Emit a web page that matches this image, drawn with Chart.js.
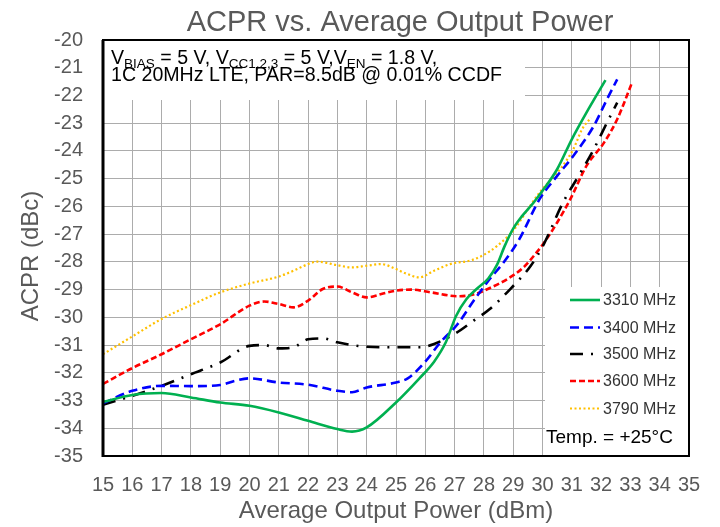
<!DOCTYPE html>
<html>
<head>
<meta charset="utf-8">
<script src="https://cdn.jsdelivr.net/npm/chart.js@4"></script>
<style>
  html, body { margin: 0; padding: 0; background: #ffffff; }
  #wrap { width: 720px; height: 527px; position: relative; }
</style>
</head>
<body>
<div id="wrap"><canvas id="c" width="720" height="527"></canvas></div>
<script>
// ---- data ----
const seriesNames = ["3310 MHz", "3400 MHz", "3500 MHz", "3600 MHz", "3790 MHz"];

const power3310 = [15, 16, 17, 18, 19, 20, 21, 22, 23, 23.5, 24, 25, 25.8, 26.3, 26.7, 27.05, 27.4, 27.75, 28.15, 28.45, 28.7, 29, 29.3, 29.7, 30, 30.5, 31, 31.5, 32.15];
const acpr3310  = [-33.05, -32.8, -32.73, -32.89, -33.07, -33.19, -33.43, -33.73, -34.03, -34.12, -33.97, -33.07, -32.2, -31.6, -30.9, -29.95, -29.35, -28.98, -28.6, -28.1, -27.45, -26.8, -26.35, -25.86, -25.44, -24.66, -23.58, -22.62, -21.45];

const power3400 = [15, 16, 17, 18, 19, 19.5, 20, 21, 22, 23, 23.5, 24, 25, 25.4, 26, 26.5, 27.1, 27.65, 28.2, 28.65, 29.2, 29.9, 30.5, 31.05, 31.75, 32.2, 32.55];
const acpr3400  = [-33.1, -32.65, -32.47, -32.48, -32.44, -32.29, -32.2, -32.35, -32.43, -32.65, -32.7, -32.53, -32.35, -32.2, -31.6, -30.92, -30.25, -29.4, -28.62, -28.05, -27.2, -25.74, -24.9, -24.18, -23.1, -22.14, -21.42];

const power3500 = [15, 16, 17, 18, 19, 20, 20.5, 21, 21.5, 22, 22.5, 23, 24, 25, 25.8, 26.3, 27, 27.65, 28.2, 28.9, 29.6, 30.05, 30.7, 31.3, 31.75, 32.2, 32.55];
const acpr3500  = [-33.15, -32.83, -32.47, -32.05, -31.63, -31.03, -31.0, -31.12, -31.08, -30.79, -30.76, -30.9, -31.06, -31.08, -31.08, -30.96, -30.6, -30.12, -29.7, -28.98, -28.14, -27.35, -25.86, -24.78, -23.94, -22.98, -22.26];

const power3600 = [15, 16, 17, 18, 19, 20, 20.5, 21, 21.5, 22, 22.5, 23, 23.5, 24, 24.5, 25, 25.5, 26.2, 27.1, 27.7, 28.25, 28.8, 29.35, 29.8, 30.1, 30.5, 30.95, 31.5, 32.1, 32.55, 33.05];
const acpr3600  = [-32.4, -31.83, -31.33, -30.79, -30.25, -29.58, -29.43, -29.52, -29.64, -29.4, -28.98, -28.89, -29.1, -29.28, -29.16, -29.04, -29.0, -29.1, -29.24, -29.16, -28.92, -28.62, -28.2, -27.66, -27.24, -26.58, -25.74, -24.54, -23.7, -22.86, -21.55];

const power3790 = [15, 16, 17, 18, 19, 20, 21, 21.5, 22, 22.3, 23, 23.5, 24, 24.5, 25, 25.3, 25.8, 26.3, 26.85, 27.6, 28.2, 28.7, 29.0, 29.5, 29.9, 30.6, 31.05, 31.35, 31.65];
const acpr3790  = [-31.33, -30.69, -30.06, -29.56, -29.1, -28.78, -28.53, -28.32, -28.08, -27.99, -28.12, -28.2, -28.14, -28.08, -28.26, -28.4, -28.56, -28.32, -28.08, -27.93, -27.62, -27.2, -26.88, -26.1, -25.5, -24.66, -23.94, -23.22, -22.8];

const xTickMin = 15, xTickMax = 35;
const yTickMin = -35, yTickMax = -20;

const titleText = "ACPR vs. Average Output Power";
const xTitle = "Average Output Power (dBm)";
const yTitle = "ACPR (dBc)";
const tempText = "Temp. = +25°C";
const noteLine1 = [["V", 0], ["BIAS", 1], [" = 5 V, V", 0], ["CC1,2,3", 1], [" = 5 V,V", 0], ["EN", 1], [" = 1.8 V,", 0]];
const noteLine2 = "1C 20MHz LTE, PAR=8.5dB @ 0.01% CCDF";

// ---- styles ----
const FONT = "'Liberation Sans', Arial, sans-serif";
const styles = [
  { color: "#00b050", dash: [], width: 2.6 },
  { color: "#0000ff", dash: [9, 5], width: 2.6 },
  { color: "#000000", dash: [13, 8, 2, 8], width: 2.6 },
  { color: "#ff0000", dash: [6, 3], width: 2.6 },
  { color: "#ffc000", dash: [2, 2.5], width: 2.2 }
];
const xs = [power3310, power3400, power3500, power3600, power3790];
const ys = [acpr3310, acpr3400, acpr3500, acpr3600, acpr3790];

const datasets = seriesNames.map((name, i) => ({
  label: name,
  data: xs[i].map((x, j) => ({ x: x, y: ys[i][j] })),
  borderColor: styles[i].color,
  backgroundColor: styles[i].color,
  borderDash: styles[i].dash,
  borderWidth: styles[i].width,
  pointRadius: 0,
  fill: false,
  cubicInterpolationMode: "monotone",
  borderCapStyle: "butt"
}));

const decor = {
  id: "decor",
  beforeDatasetsDraw(chart) {
    const ctx = chart.ctx;
    const a = chart.chartArea;
    ctx.save();
    ctx.fillStyle = "#ffffff";
    // annotation box
    ctx.fillRect(a.left, a.top, 525 - a.left, 100 - a.top);
    // legend box
    ctx.fillRect(545, 287, a.right - 545, a.bottom - 287);
    ctx.restore();
  },
  afterDraw(chart) {
    const ctx = chart.ctx;
    const a = chart.chartArea;
    ctx.save();
    // title
    ctx.fillStyle = "#595959";
    ctx.font = "29px " + FONT;
    ctx.textAlign = "center";
    ctx.textBaseline = "alphabetic";
    ctx.fillText(titleText, 400, 31);
    // y title
    ctx.save();
    ctx.translate(31, 256);
    ctx.rotate(-Math.PI / 2);
    ctx.font = "24px " + FONT;
    ctx.textBaseline = "middle";
    ctx.fillText(yTitle, 0, 0);
    ctx.restore();
    // note text
    ctx.fillStyle = "#000000";
    ctx.textAlign = "left";
    let x = 111;
    for (const [t, sub] of noteLine1) {
      ctx.font = (sub ? "13.5px " : "19.6px ") + FONT;
      ctx.fillText(t, x, sub ? 68 : 64);
      x += ctx.measureText(t).width;
    }
    ctx.font = "19.6px " + FONT;
    ctx.fillText(noteLine2, 111, 81);
    // legend
    ctx.font = "16px " + FONT;
    ctx.textBaseline = "middle";
    const rows = [300, 327.5, 354, 381, 408.5];
    seriesNames.forEach((n, i) => {
      const s = styles[i];
      ctx.save();
      ctx.strokeStyle = s.color;
      ctx.lineWidth = s.width;
      ctx.setLineDash(s.dash);
      ctx.beginPath();
      ctx.moveTo(570, rows[i]);
      ctx.lineTo(600, rows[i]);
      ctx.stroke();
      ctx.restore();
      ctx.fillStyle = "#333333";
      ctx.fillText(n, 603, rows[i] + 1);
    });
    ctx.fillStyle = "#000000";
    ctx.font = "19px " + FONT;
    ctx.fillText(tempText, 546, 438);
    // frame
    ctx.strokeStyle = "#000000";
    ctx.lineWidth = 2;
    ctx.strokeRect(a.left, a.top, a.right - a.left, a.bottom - a.top);
    ctx.lineWidth = 3;
    ctx.beginPath();
    ctx.moveTo(a.left, a.top);
    ctx.lineTo(a.left, a.bottom + 1);
    ctx.stroke();
    ctx.restore();
  }
};

new Chart(document.getElementById("c"), {
  type: "line",
  data: { datasets: datasets },
  plugins: [decor],
  options: {
    responsive: false,
    animation: false,
    devicePixelRatio: 1,
    layout: { padding: { left: 0, right: 31, top: 40, bottom: 0 } },
    plugins: { legend: { display: false }, tooltip: { enabled: false }, title: { display: false } },
    scales: {
      x: {
        type: "linear",
        min: xTickMin, max: xTickMax,
        afterFit(s) { s.height = 71; },
        ticks: { stepSize: 1, autoSkip: false, maxRotation: 0, padding: 17, color: "#595959", font: { size: 20, family: FONT } },
        grid: { color: "#acacac", lineWidth: 1, drawTicks: false },
        border: { display: false },
        title: { display: true, text: xTitle, color: "#595959", font: { size: 24, family: FONT }, padding: { top: 0, bottom: 1 } }
      },
      y: {
        min: yTickMin, max: yTickMax,
        afterFit(s) { s.width = 103; },
        ticks: { stepSize: 1, autoSkip: false, padding: 20, color: "#595959", font: { size: 20, family: FONT } },
        grid: { color: "#acacac", lineWidth: 1, drawTicks: false },
        border: { display: false }
      }
    }
  }
});
</script>
</body>
</html>
